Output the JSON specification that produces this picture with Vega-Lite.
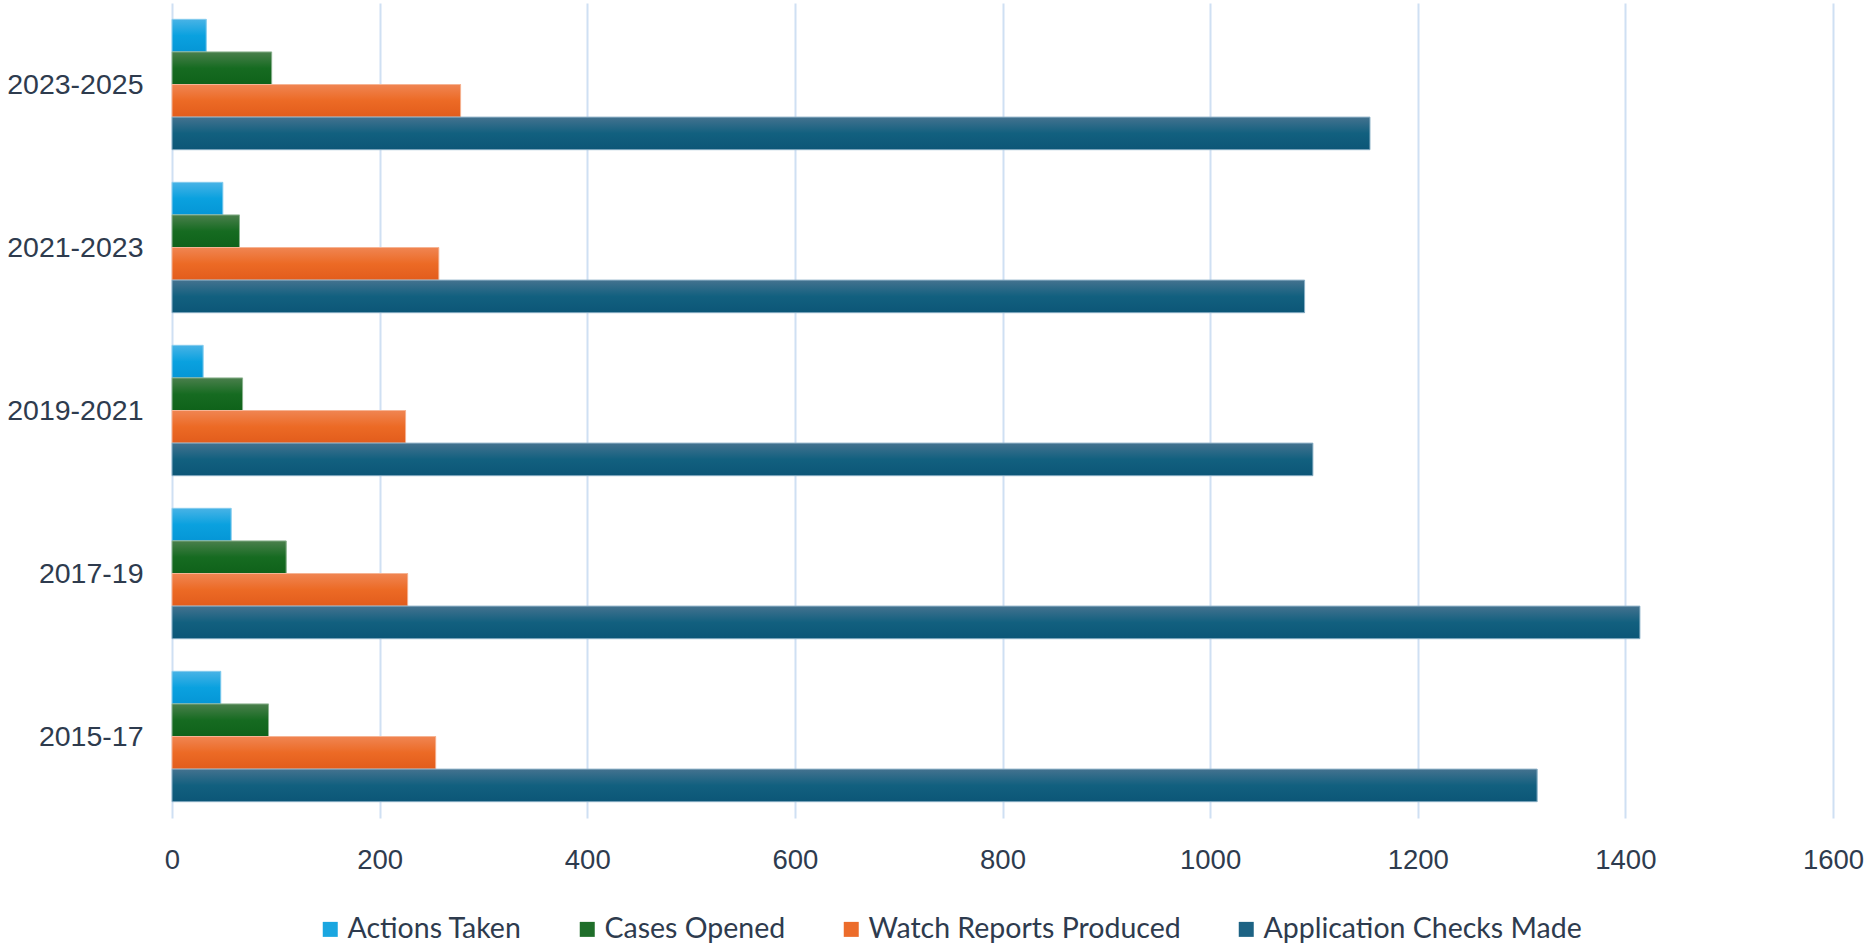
{
  "$schema": "https://vega.github.io/schema/vega-lite/v6.json",
  "width": 1661,
  "height": 815,
  "autosize": {"type": "none"},
  "padding": {"left": 172, "top": 3, "right": 41, "bottom": 129},
  "background": "#ffffff",
  "config": {
    "view": {"stroke": null},
    "font": "Liberation Sans"
  },
  "data": {
    "values": [
      {"period": "2023-2025", "measure": "Actions Taken", "count": 33},
      {"period": "2023-2025", "measure": "Cases Opened", "count": 96},
      {"period": "2023-2025", "measure": "Watch Reports Produced", "count": 278},
      {"period": "2023-2025", "measure": "Application Checks Made", "count": 1154},
      {"period": "2021-2023", "measure": "Actions Taken", "count": 49},
      {"period": "2021-2023", "measure": "Cases Opened", "count": 65},
      {"period": "2021-2023", "measure": "Watch Reports Produced", "count": 257},
      {"period": "2021-2023", "measure": "Application Checks Made", "count": 1091},
      {"period": "2019-2021", "measure": "Actions Taken", "count": 30},
      {"period": "2019-2021", "measure": "Cases Opened", "count": 68},
      {"period": "2019-2021", "measure": "Watch Reports Produced", "count": 225},
      {"period": "2019-2021", "measure": "Application Checks Made", "count": 1099},
      {"period": "2017-19", "measure": "Actions Taken", "count": 57},
      {"period": "2017-19", "measure": "Cases Opened", "count": 110},
      {"period": "2017-19", "measure": "Watch Reports Produced", "count": 227},
      {"period": "2017-19", "measure": "Application Checks Made", "count": 1414},
      {"period": "2015-17", "measure": "Actions Taken", "count": 47},
      {"period": "2015-17", "measure": "Cases Opened", "count": 93},
      {"period": "2015-17", "measure": "Watch Reports Produced", "count": 254},
      {"period": "2015-17", "measure": "Application Checks Made", "count": 1315}
    ]
  },
  "encoding": {
    "y": {
      "field": "period",
      "type": "nominal",
      "sort": ["2023-2025", "2021-2023", "2019-2021", "2017-19", "2015-17"],
      "scale": {"paddingInner": 0.2, "paddingOuter": 0.1},
      "axis": {
        "title": null,
        "domain": false,
        "ticks": false,
        "labelPadding": 29,
        "labelFont": "Liberation Sans",
        "labelFontSize": 28.5,
        "labelColor": "#2e3b4e"
      }
    },
    "yOffset": {
      "field": "measure",
      "type": "nominal",
      "scale": {
        "domain": ["Actions Taken", "Cases Opened", "Watch Reports Produced", "Application Checks Made"],
        "paddingInner": 0,
        "paddingOuter": 0
      }
    },
    "x": {
      "field": "count",
      "type": "quantitative",
      "scale": {"domain": [0, 1600], "nice": false},
      "axis": {
        "title": null,
        "values": [0, 200, 400, 600, 800, 1000, 1200, 1400, 1600],
        "format": "d",
        "domain": false,
        "ticks": false,
        "grid": true,
        "gridColor": "#cfe0f3",
        "gridWidth": 2,
        "labelPadding": 28,
        "labelFont": "Liberation Sans",
        "labelFontSize": 27.5,
        "labelColor": "#2e3b4e",
        "labelFlush": false
      }
    }
  },
  "layer": [
    {
      "mark": {"type": "bar"},
      "encoding": {
        "fill": {
          "field": "measure",
          "type": "nominal",
          "scale": {
            "domain": ["Actions Taken", "Cases Opened", "Watch Reports Produced", "Application Checks Made"],
            "range": ["#1aa6e0", "#1f6e2a", "#ec6c2b", "#1d6384"]
          },
          "legend": {
            "title": null,
            "orient": "none",
            "direction": "horizontal",
            "legendX": 144,
            "legendY": 912,
            "symbolType": "square",
            "symbolSize": 225,
            "symbolStrokeWidth": 0,
            "symbolOpacity": 1,
            "labelOffset": 3,
            "columnPadding": 51,
            "labelFont": "Lato",
            "labelFontSize": 28.5,
            "labelColor": "#2e3b4e",
            "labelLimit": 0
          }
        }
      }
    },
    {
      "transform": [{"filter": "datum.measure === 'Actions Taken'"}],
      "mark": {
        "type": "bar",
        "stroke": "#8fd0ef", "strokeWidth": 1,
        "fill": {"gradient": "linear", "x1": 0, "y1": 0, "x2": 0, "y2": 1, "stops": [{"offset": 0, "color": "#48b3e6"}, {"offset": 0.5, "color": "#0aa1df"}, {"offset": 1, "color": "#0596d6"}]}
      }
    },
    {
      "transform": [{"filter": "datum.measure === 'Cases Opened'"}],
      "mark": {
        "type": "bar",
        "stroke": "#8fb593", "strokeWidth": 1,
        "fill": {"gradient": "linear", "x1": 0, "y1": 0, "x2": 0, "y2": 1, "stops": [{"offset": 0, "color": "#4a7f4c"}, {"offset": 0.5, "color": "#166b21"}, {"offset": 1, "color": "#0f621a"}]}
      }
    },
    {
      "transform": [{"filter": "datum.measure === 'Watch Reports Produced'"}],
      "mark": {
        "type": "bar",
        "stroke": "#f6b494", "strokeWidth": 1,
        "fill": {"gradient": "linear", "x1": 0, "y1": 0, "x2": 0, "y2": 1, "stops": [{"offset": 0, "color": "#f08552"}, {"offset": 0.5, "color": "#ec6a25"}, {"offset": 1, "color": "#e25c1c"}]}
      }
    },
    {
      "transform": [{"filter": "datum.measure === 'Application Checks Made'"}],
      "mark": {
        "type": "bar",
        "stroke": "#8fb3c8", "strokeWidth": 1,
        "fill": {"gradient": "linear", "x1": 0, "y1": 0, "x2": 0, "y2": 1, "stops": [{"offset": 0, "color": "#44728f"}, {"offset": 0.5, "color": "#12607f"}, {"offset": 1, "color": "#0c5677"}]}
      }
    }
  ]
}
